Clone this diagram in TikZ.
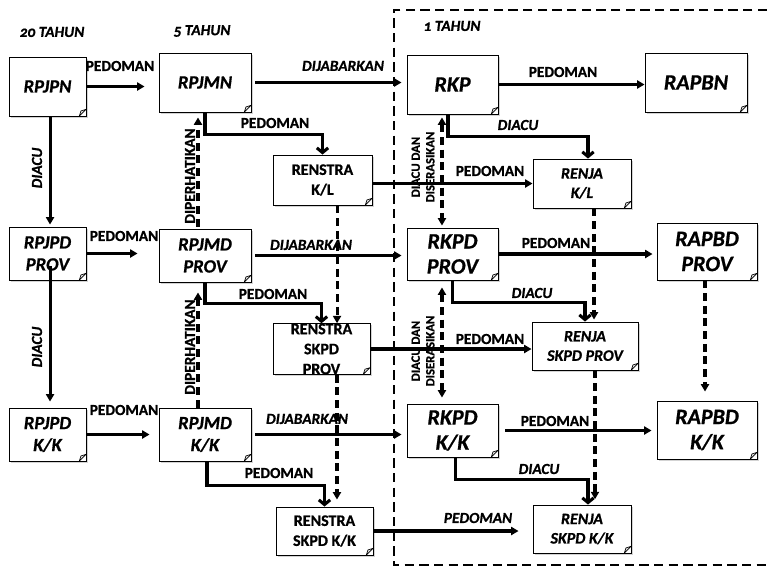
\documentclass[tikz,border=0pt]{standalone}
\usepackage{fontspec}
\setmainfont{Carlito}[Numbers=OldStyle, BoldFeatures={FakeBold=0.8}, BoldItalicFeatures={FakeBold=0.8}]
\usetikzlibrary{arrows.meta,shadows}
\begin{document}
\begin{tikzpicture}[x=0.75pt,y=-0.75pt,
  doc/.style={draw, line width=0.7pt, fill=white, inner sep=0pt, align=center,
    drop shadow={shadow xshift=1.2pt,shadow yshift=-1.2pt,opacity=0.35},
    path picture={\draw[line width=0.5pt,fill=gray!20]
      ([xshift=-5pt]path picture bounding box.south east) --
      ([yshift=5pt]path picture bounding box.south east) --
      ([xshift=-3.8pt,yshift=3.8pt]path picture bounding box.south east) -- cycle;}},
  tA/.style={font=\fontsize{14}{16.5}\selectfont\bfseries\itshape},
  tB/.style={font=\fontsize{16.5}{18.8}\selectfont\bfseries\itshape},
  tC/.style={font=\fontsize{12}{15}\selectfont\bfseries},
  tD/.style={font=\fontsize{12}{14.5}\selectfont\bfseries\itshape},
  lab/.style={font=\fontsize{11.5}{13}\selectfont\bfseries, inner sep=0pt},
  labi/.style={font=\fontsize{11.5}{13}\selectfont\bfseries\itshape, inner sep=0pt},
  small/.style={font=\fontsize{9.5}{11}\selectfont\bfseries, inner sep=0pt, align=center},
  arr/.style={line width=2.3pt, -{Triangle[length=5.5pt,width=6pt]}},
  elb/.style={line width=2.3pt, -{Straight Barb[length=3.5pt,width=8.5pt]}},
  dsh/.style={line width=2.3pt, dash pattern=on 6pt off 3.5pt, -{Triangle[length=5.5pt,width=6pt]}},
  dshb/.style={line width=2.3pt, dash pattern=on 6pt off 3.5pt, {Triangle[length=5.5pt,width=6pt]}-{Triangle[length=5.5pt,width=6pt]}}
]
\useasboundingbox (0,0) rectangle (767,569);

% one-year frame
\draw[line width=2.2pt, dash pattern=on 7pt off 4pt] (767,10) -- (394,10) -- (394,565) -- (767,565);

% period headers
\node[labi] (h20) at (52,32) {20 TAHUN};
\node[labi] (h5) at (202,31) {5 TAHUN};
\node[labi] (h1) at (452,26) {1 TAHUN};

% row 1
\node[doc, tA, minimum width=57.75pt, minimum height=44.25pt] (RPJPN) at (47.5,86.5) {RPJPN};
\node[doc, tA, minimum width=69pt, minimum height=44.25pt] (RPJMN) at (205,82.5) {RPJMN};
\node[doc, tB, minimum width=68.25pt, minimum height=44.25pt] (RKP) at (452.5,84.5) {RKP};
\node[doc, tB, minimum width=76.5pt, minimum height=44.25pt] (RAPBN) at (696,82.5) {RAPBN};
\node[doc, tC, minimum width=74.25pt, minimum height=37.5pt] (RENSTRAKL) at (322.5,180) {RENSTRA\\K/L};
\node[doc, tD, minimum width=73.5pt, minimum height=36.75pt] (RENJAKL) at (582,183.5) {RENJA\\K/L};

% row 2
\node[doc, tA, minimum width=57.75pt, minimum height=39.75pt] (RPJPDP) at (47.5,253.5) {RPJPD\\PROV};
\node[doc, tA, minimum width=69pt, minimum height=39.75pt] (RPJMDP) at (205,255.5) {RPJMD\\PROV};
\node[doc, tB, minimum width=68.25pt, minimum height=39pt] (RKPDP) at (452.5,254) {RKPD\\PROV};
\node[doc, tB, minimum width=75pt, minimum height=42.75pt] (RAPBDP) at (707,251.5) {RAPBD\\PROV};
\node[doc, tC, minimum width=72.75pt, minimum height=36pt] (RENSTRAP) at (321.5,349) {RENSTRA\\SKPD\\PROV};
\node[doc, tD, minimum width=79.5pt, minimum height=36pt] (RENJAP) at (585,346) {RENJA\\SKPD PROV};

% row 3
\node[doc, tA, minimum width=57.75pt, minimum height=39.75pt] (RPJPDK) at (47.5,434.5) {RPJPD\\K/K};
\node[doc, tA, minimum width=69pt, minimum height=39.75pt] (RPJMDK) at (205,434.5) {RPJMD\\K/K};
\node[doc, tB, minimum width=68.25pt, minimum height=39.75pt] (RKPDK) at (452.5,430.5) {RKPD\\K/K};
\node[doc, tB, minimum width=75pt, minimum height=43.5pt] (RAPBDK) at (707,430) {RAPBD\\K/K};
\node[doc, tC, minimum width=72.75pt, minimum height=36pt] (RENSTRAK) at (324.5,531) {RENSTRA\\SKPD K/K};
\node[doc, tD, minimum width=73.5pt, minimum height=36pt] (RENJAK) at (582,529) {RENJA\\SKPD K/K};

% horizontal connectors
\draw[arr, shorten >=10.5pt] (RPJPN.east) -- (RPJPN.east -| RPJMN.west);
\draw[arr, shorten <=3pt, shorten >=3.75pt] (RPJMN.east) -- (RPJMN.east -| RKP.west);
\draw[arr] (RKP.east) -- (RKP.east -| RAPBN.west);
\draw[arr, shorten >=15.75pt] (RPJPDP.east) -- (RPJPDP.east -| RPJMDP.west);
\draw[arr, shorten <=3pt, shorten >=3.75pt] (RPJMDP.east) -- (RPJMDP.east -| RKPDP.west);
\draw[arr, shorten >=3pt] (RKPDP.east) -- (RKPDP.east -| RAPBDP.west);
\draw[arr, shorten >=6.75pt] (RPJPDK.east) -- (RPJPDK.east -| RPJMDK.west);
\draw[arr, shorten <=3pt, shorten >=3.75pt] (RPJMDK.east) -- (RPJMDK.east -| RKPDK.west);
\draw[arr, shorten <=5.25pt, shorten >=3.75pt] (RKPDK.east) -- (RKPDK.east -| RAPBDK.west);
\draw[arr] (RENSTRAKL.east |- RENJAKL.west) -- (RENJAKL.west);
\draw[arr] (RENSTRAP.east) -- (RENSTRAP.east -| RENJAP.west);
\draw[arr, shorten >=10.5pt] (RENSTRAK.east) -- (RENSTRAK.east -| RENJAK.west);

% vertical DIACU (left column)
\draw[arr, shorten >=1.5pt] ([xshift=1.9pt]RPJPN.south) -- ([xshift=1.9pt]RPJPN.south |- RPJPDP.north);
\draw[arr, shorten <=-11pt, shorten >=4.5pt] ([xshift=1.9pt]RPJPDP.south) -- ([xshift=1.9pt]RPJPDP.south |- RPJPDK.north);

% DIPERHATIKAN (dashed, upward)
\draw[dsh, shorten <=1.5pt, shorten >=3.75pt] ([xshift=-5.25pt]RPJMDP.north) -- ([xshift=-5.25pt]RPJMDP.north |- RPJMN.south);
\draw[dsh, shorten >=7.5pt] ([xshift=-5.25pt]RPJMDK.north) -- ([xshift=-5.25pt]RPJMDK.north |- RPJMDP.south);

% DIACU DAN DISERASIKAN (dashed, both ways)
\draw[dshb, shorten <=2.25pt, shorten >=1.5pt] ([xshift=-7.9pt]RKP.south) -- ([xshift=-7.9pt]RKP.south |- RKPDP.north);
\draw[dshb, shorten <=5.25pt, shorten >=4.5pt] ([xshift=-7.9pt]RKPDP.south) -- ([xshift=-7.9pt]RKPDP.south |- RKPDK.north);

% dashed downward links
\draw[dsh] ([xshift=10.9pt]RENSTRAKL.south) -- ([xshift=10.9pt]RENSTRAKL.south |- RENSTRAP.north);
\draw[dsh, shorten >=5.25pt] ([xshift=11.6pt]RENSTRAP.south) -- ([xshift=11.6pt]RENSTRAP.south |- RENSTRAK.north);
\draw[dsh, shorten >=1.5pt] ([xshift=9pt]RENJAKL.south) -- ([xshift=9pt]RENJAKL.south |- RENJAP.north);
\draw[dsh, shorten >=4pt] ([xshift=7.5pt]RENJAP.south) -- ([xshift=7.5pt]RENJAP.south |- RENJAK.north);
\draw[dsh, shorten >=6.75pt] ([xshift=-1.5pt]RAPBDP.south) -- ([xshift=-1.5pt]RAPBDP.south |- RAPBDK.north);

% elbow connectors
\draw[elb] (RPJMN.south) -- ++(0,22) -| (RENSTRAKL.north);
\draw[elb] (RPJMDP.south) -- ++(0,21) -| (RENSTRAP.north);
\draw[elb] ([xshift=1.5pt]RPJMDK.south) -- ++(0,24) -| (RENSTRAK.north);
\draw[elb] ([xshift=-3.4pt]RKP.south) -- ++(0,22) -| ([xshift=4.5pt]RENJAKL.north);
\draw[elb] (RKPDP.south) -- ++(0,22) -| (RENJAP.north);
\draw[elb] ([xshift=1.9pt]RKPDK.south) -- ++(0,22) -| ([xshift=4.5pt]RENJAK.north);

% labels
\node[lab] (l1) at (120,66) {PEDOMAN};
\node[labi] (l2) at (343,66) {DIJABARKAN};
\node[lab] (l3) at (563,72) {PEDOMAN};
\node[lab] (l4) at (275,123) {PEDOMAN};
\node[labi] (l5) at (518,125) {DIACU};
\node[lab] (l6) at (490,171) {PEDOMAN};
\node[lab] (l7) at (124,236) {PEDOMAN};
\node[labi] (l8) at (311,245) {DIJABARKAN};
\node[lab] (l9) at (556,243) {PEDOMAN};
\node[lab] (l10) at (273,294) {PEDOMAN};
\node[labi] (l11) at (532,293) {DIACU};
\node[lab] (l12) at (490,339) {PEDOMAN};
\node[lab] (l13) at (124,410) {PEDOMAN};
\node[labi] (l14) at (307,419) {DIJABARKAN};
\node[lab] (l15) at (555,421) {PEDOMAN};
\node[lab] (l16) at (279,473) {PEDOMAN};
\node[labi] (l17) at (539,469) {DIACU};
\node[labi] (l18) at (478,518) {PEDOMAN};
\node[labi, rotate=90] (l19) at (37,168) {DIACU};
\node[labi, rotate=90] (l20) at (37,347) {DIACU};
\node[lab, rotate=90] (l21) at (190,176) {DIPERHATIKAN};
\node[lab, rotate=90] (l22) at (190,347) {DIPERHATIKAN};
\node[small, rotate=90] (l23) at (423,167) {DIACU DAN\\DISERASIKAN};
\node[small, rotate=90] (l24) at (423,351) {DIACU DAN\\DISERASIKAN};
\end{tikzpicture}
\end{document}
